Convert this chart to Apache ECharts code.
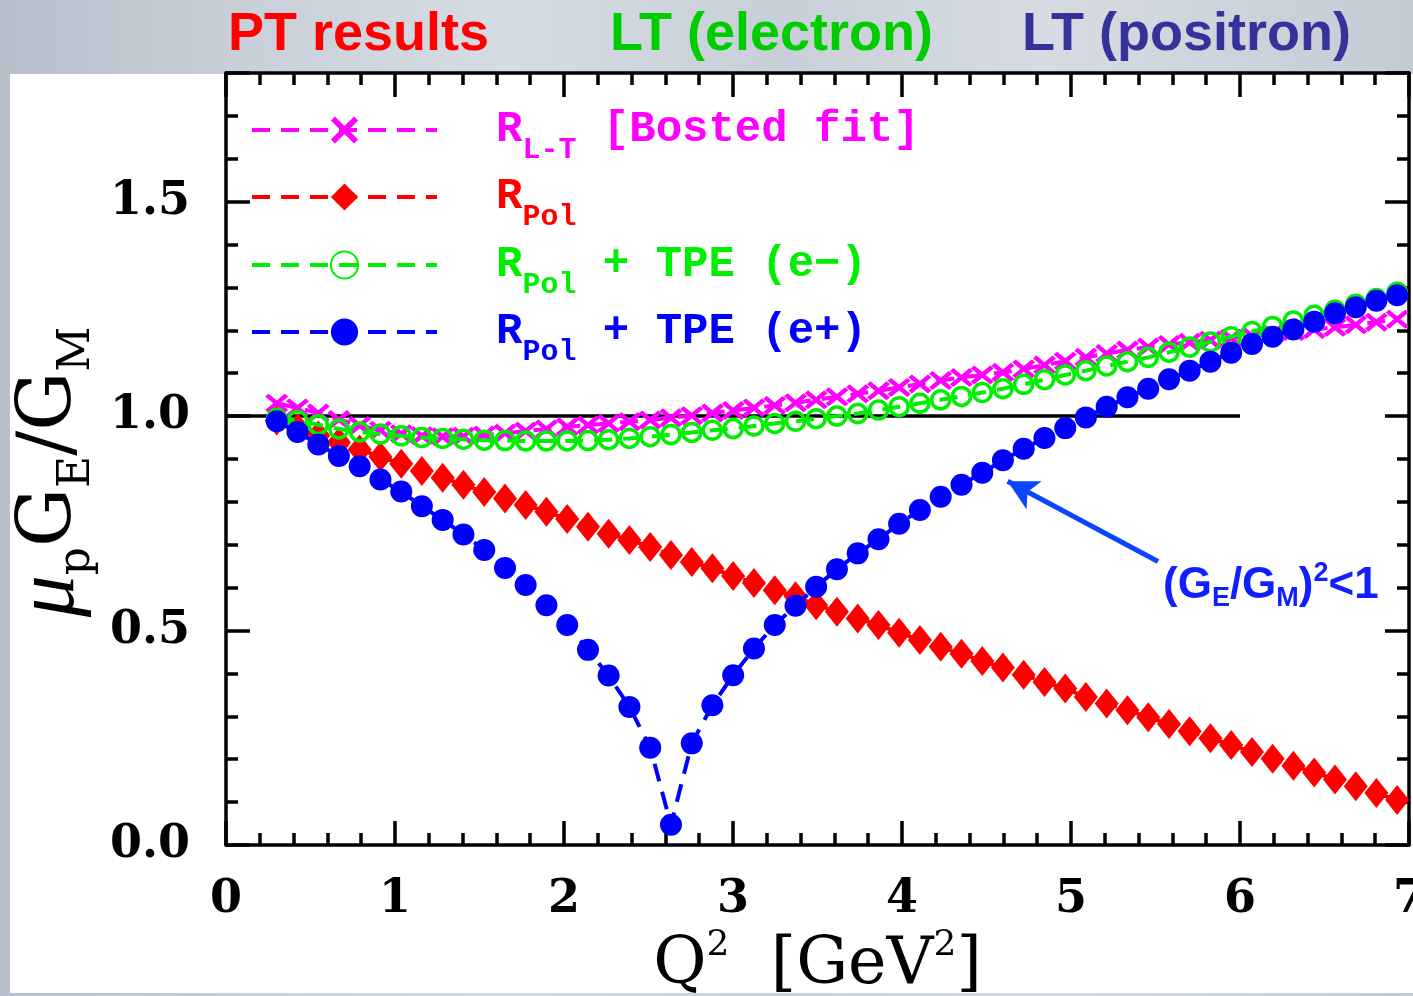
<!DOCTYPE html>
<html>
<head>
<meta charset="utf-8">
<script src="https://cdn.jsdelivr.net/npm/echarts@6/dist/echarts.min.js"></script>
<style>
html,body{margin:0;padding:0;width:1413px;height:996px;overflow:hidden;
background:linear-gradient(90deg,#b6bfca 0%,#c9d0d9 18%,#d6dce3 36%,#c8cfd8 55%,#d7dce2 74%,#c4cbd5 100%);}
#panel{position:absolute;left:10px;top:74px;width:1403px;height:919px;background:#ffffff;}
#chart{position:absolute;left:0;top:0;width:1413px;height:996px;}
</style>
</head>
<body>
<div id="panel"></div>
<div id="chart"></div>
<script>
// ---------------- data ----------------
const q2 = [0.300,0.423,0.546,0.668,0.791,0.914,1.037,1.159,1.282,1.405,
            1.528,1.651,1.773,1.896,2.019,2.142,2.264,2.387,2.510,2.633,
            2.756,2.878,3.001,3.124,3.247,3.370,3.492,3.615,3.738,3.861,
            3.983,4.106,4.229,4.352,4.475,4.597,4.720,4.843,4.966,5.088,
            5.211,5.334,5.457,5.580,5.702,5.825,5.948,6.071,6.193,6.316,
            6.439,6.562,6.685,6.807,6.930];

const rLT = [1.030,1.019,1.007,0.992,0.978,0.967,0.959,0.954,0.952,0.953,
             0.956,0.960,0.965,0.970,0.975,0.979,0.983,0.987,0.991,0.996,
             1.001,1.007,1.013,1.019,1.025,1.031,1.038,1.045,1.052,1.059,
             1.067,1.075,1.083,1.090,1.096,1.102,1.110,1.119,1.128,1.137,
             1.146,1.154,1.161,1.167,1.172,1.177,1.182,1.187,1.192,1.197,
             1.202,1.207,1.213,1.219,1.226];

const rPol = [0.990,0.972,0.955,0.939,0.922,0.905,0.889,0.872,0.856,0.840,
              0.823,0.808,0.793,0.777,0.760,0.742,0.726,0.711,0.695,0.676,
              0.660,0.645,0.627,0.611,0.594,0.580,0.559,0.544,0.528,0.513,
              0.495,0.478,0.462,0.446,0.429,0.414,0.397,0.380,0.365,0.345,
              0.330,0.314,0.298,0.282,0.265,0.249,0.233,0.217,0.201,0.185,
              0.169,0.153,0.137,0.121,0.105];

const rPolTPEm = [0.995,0.990,0.980,0.970,0.963,0.958,0.954,0.950,0.948,0.946,
                  0.944,0.943,0.942,0.942,0.942,0.943,0.945,0.948,0.952,0.957,
                  0.962,0.967,0.971,0.977,0.983,0.988,0.994,1.000,1.006,1.014,
                  1.022,1.030,1.038,1.046,1.055,1.064,1.074,1.085,1.096,1.106,
                  1.117,1.127,1.137,1.149,1.161,1.173,1.185,1.197,1.209,1.222,
                  1.235,1.247,1.261,1.274,1.289];

const rPolTPEp = [0.988,0.963,0.934,0.907,0.883,0.852,0.824,0.790,0.758,0.724,
                  0.688,0.646,0.606,0.559,0.513,0.455,0.395,0.322,0.227,0.047,
                  0.237,0.326,0.396,0.458,0.513,0.558,0.602,0.643,0.680,0.713,
                  0.749,0.781,0.812,0.840,0.868,0.897,0.924,0.949,0.972,0.997,
                  1.022,1.044,1.064,1.086,1.106,1.127,1.148,1.168,1.185,1.202,
                  1.220,1.240,1.254,1.269,1.282];

const unityQ2 = [0, 6];
const unityVal = [1, 1];

const arrowFrom = [5.515, 0.661];
const arrowTo = [4.625, 0.848];

const xTickValues = [0,1,2,3,4,5,6,7];
const xTickLabels = ['0','1','2','3','4','5','6','7'];
const yTickValues = [0.0,0.5,1.0,1.5];
const yTickLabels = ['0.0','0.5','1.0','1.5'];

const seriesNames = ['R_L-T [Bosted fit]','R_Pol','R_Pol + TPE (e-)','R_Pol + TPE (e+)'];
const legendTexts = [
  '{m|R}{s|L-T}{m| [Bosted fit]}',
  '{m|R}{s|Pol}',
  '{m|R}{s|Pol}{m| + TPE (e\u2212)}',
  '{m|R}{s|Pol}{m| + TPE (e+)}'
];
const headerTexts = ['PT results','LT (electron)','LT (positron)'];

// ---------------- styling ----------------
const MONO = 'Liberation Mono';
const SERIF = 'DejaVu Serif';
const SANS = 'Liberation Sans';
const C_MAG = '#ff00ff', C_RED = '#ff0000', C_GRN = '#00ee00', C_BLU = '#0000ff';
const seriesColors = [C_MAG, C_RED, C_GRN, C_BLU];

function pair(ys){ return q2.map((x,i)=>[x, ys[i]]); }
function lookupLabel(vals, labels, v){
  for (let i=0;i<vals.length;i++) if (Math.abs(vals[i]-v) < 1e-6) return labels[i];
  return '';
}

const tickLine = {color:'#000', width:3.5};
function xAxisBase(pos, showLabel){
  return {
    type:'value', min:0, max:7, interval:1, position:pos, gridIndex:0,
    axisLine:{show:true, onZero:false, lineStyle:tickLine},
    axisTick:{show:true, inside:true, length:24, lineStyle:tickLine},
    minorTick:{show:true, splitNumber:5, length:12, lineStyle:tickLine},
    splitLine:{show:false}, minorSplitLine:{show:false},
    axisLabel:{show:showLabel, margin:32, fontSize:46, fontFamily:SERIF, fontWeight:'bold', color:'#000',
      formatter:v=>lookupLabel(xTickValues,xTickLabels,v)}
  };
}
function yAxisBase(pos, interval, len, showLabel, showLine){
  return {
    type:'value', min:0, max:1.8, interval:interval, position:pos, gridIndex:0,
    axisLine:{show:showLine, onZero:false, lineStyle:tickLine},
    axisTick:{show:true, inside:true, length:len, lineStyle:tickLine},
    splitLine:{show:false},
    axisLabel:{show:showLabel, margin:36, fontSize:46, fontFamily:SERIF, fontWeight:'bold', color:'#000',
      formatter:v=>lookupLabel(yTickValues,yTickLabels,v)}
  };
}

const xBottom = xAxisBase('bottom', true);
xBottom.name = '{g|Q}{p|2}{g|  [GeV}{p|2}{g|]}';
xBottom.nameLocation = 'middle';
xBottom.nameGap = 76;
xBottom.nameTextStyle = {
  color:'#000',
  rich:{
    g:{fontSize:65, fontFamily:SERIF, fontWeight:'normal', color:'#000'},
    p:{fontSize:36, fontFamily:SERIF, fontWeight:'normal', color:'#000', padding:[0,0,40,0]}
  }
};
const xTop = xAxisBase('top', false);

const yLeftMajor = yAxisBase('left', 0.5, 24, true, true);
yLeftMajor.name = '{mu|\u03bc}{s|p}{g|G}{s|E}{g|/G}{e|M}';
yLeftMajor.nameLocation = 'middle';
yLeftMajor.nameRotate = 90;
yLeftMajor.nameGap = 122;
yLeftMajor.nameTextStyle = {
  color:'#000',
  rich:{
    mu:{fontSize:84, fontFamily:'Liberation Serif', fontStyle:'italic', color:'#000'},
    g:{fontSize:74, fontFamily:SERIF, fontWeight:'normal', color:'#000'},
    s:{fontSize:44, fontFamily:SERIF, fontWeight:'normal', color:'#000', padding:[52,0,0,0]},
    e:{fontSize:44, fontFamily:SERIF, fontWeight:'normal', color:'#000', padding:[52,26,0,0]}
  }
};
const yLeftMinor = yAxisBase('left', 0.1, 12, false, false);
const yRightMajor = yAxisBase('right', 0.5, 24, false, true);
const yRightMinor = yAxisBase('right', 0.1, 12, false, false);

// X-shaped marker for the Bosted fit
const crossPath = 'path://M0,3 L3,0 L10,7 L17,0 L20,3 L13,10 L20,17 L17,20 L10,13 L3,20 L0,17 L7,10 Z';

const dash = [18, 11];
const LW = 4;
const series = [
  {
    name:'unity', type:'line', data:unityQ2.map((x,i)=>[x,unityVal[i]]),
    symbol:'none', silent:true, z:1,
    lineStyle:{color:'#000', width:3.5}
  },
  {
    name:seriesNames[0], type:'line', data:pair(rLT), showAllSymbol:true,
    symbol:crossPath, symbolSize:[23,19], z:2,
    itemStyle:{color:C_MAG},
    lineStyle:{color:C_MAG, width:LW, type:dash}
  },
  {
    name:seriesNames[1], type:'line', data:pair(rPol), showAllSymbol:true,
    symbol:'diamond', symbolSize:[24,30], z:3,
    itemStyle:{color:C_RED},
    lineStyle:{color:C_RED, width:LW, type:dash}
  },
  {
    name:seriesNames[2], type:'line', data:pair(rPolTPEm), showAllSymbol:true,
    symbol:'circle', symbolSize:18, z:4,
    itemStyle:{color:'rgba(255,255,255,0)', borderColor:C_GRN, borderWidth:3.5},
    lineStyle:{color:C_GRN, width:LW, type:dash}
  },
  {
    name:seriesNames[3], type:'line', data:pair(rPolTPEp), showAllSymbol:true,
    symbol:'circle', symbolSize:22, z:5,
    itemStyle:{color:C_BLU},
    lineStyle:{color:C_BLU, width:LW, type:dash},
    markLine:{
      silent:true, animation:false,
      label:{show:false},
      lineStyle:{color:'#0a46ff', width:5, type:'solid'},
      data:[[
        {coord:arrowFrom, symbol:'none'},
        {coord:arrowTo, symbol:'arrow', symbolSize:[24,30]}
      ]]
    }
  }
];

const legendTops = [108, 175, 243, 310];
const legends = seriesNames.map((nm,i)=>({
  data:[nm], left:250, top:legendTops[i], orient:'vertical', padding:0,
  itemWidth:185, itemHeight:34, selectedMode:false,
  lineStyle:{width:LW, type:dash, color:seriesColors[i]},
  formatter:()=>legendTexts[i],
  textStyle:{
    color:seriesColors[i], padding:[0,0,0,54],
    rich:{
      m:{fontSize:44, fontFamily:MONO, fontWeight:'bold', color:seriesColors[i]},
      s:{fontSize:30, fontFamily:MONO, fontWeight:'bold', color:seriesColors[i], padding:[40,0,0,0]}
    }
  }
}));

const headerColors = ['#ff0000','#00cc00','#333399'];
const headerLeft = [228, 610, 1022];
const graphics = headerTexts.map((t,i)=>({
  type:'text', left:headerLeft[i], top:8, silent:true,
  style:{text:t, fill:headerColors[i], font:'bold 54px "Liberation Sans"'}
}));
graphics.push({
  type:'text', left:1163, top:560, silent:true,
  style:{
    text:'{m|(G}{s|E}{m|/G}{s|M}{m|)}{p|2}{m|<1}',
    fill:'#0f1fff',
    rich:{
      m:{fontSize:44, fontFamily:SANS, fontWeight:'bold', fill:'#0f1fff'},
      s:{fontSize:27, fontFamily:SANS, fontWeight:'bold', fill:'#0f1fff', padding:[26,0,0,0]},
      p:{fontSize:27, fontFamily:SANS, fontWeight:'bold', fill:'#0f1fff', padding:[0,0,24,0]}
    }
  }
});

const chart = echarts.init(document.getElementById('chart'), null, {renderer:'canvas'});
chart.setOption({
  animation:false,
  backgroundColor:'transparent',
  grid:{left:226, right:4, top:73, bottom:151, containLabel:false, outerBoundsMode:'none'},
  xAxis:[xBottom, xTop],
  yAxis:[yLeftMajor, yLeftMinor, yRightMajor, yRightMinor],
  legend:legends,
  series:series,
  graphic:graphics
});
</script>
</body>
</html>
